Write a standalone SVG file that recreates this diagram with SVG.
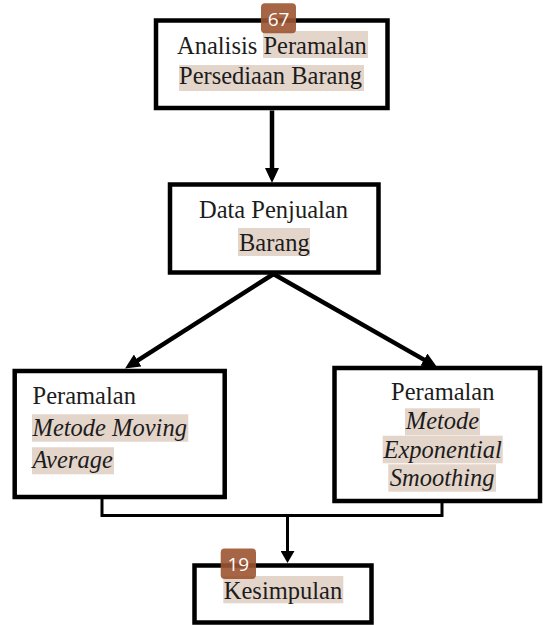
<svg xmlns="http://www.w3.org/2000/svg" width="543" height="625" viewBox="0 0 543 625">
<style>
.box{fill:#fff;stroke:#000;stroke-width:4.5}
.t{font-family:"Liberation Serif","Times New Roman",serif;font-size:24.5px;fill:#1c1c1c}
.i{font-style:italic}
.hl{fill:#e4d5cb}
.ln{fill:none;stroke:#000;stroke-width:4.5}
.ln2{fill:none;stroke:#000;stroke-width:3}
.badge{fill:#9c5430;fill-opacity:0.9}
.bt{font-family:"Open Sans","Noto Sans",sans-serif;font-size:19px;fill:#fff}
</style>
<defs>
<marker id="ah" viewBox="0 0 15 14" markerWidth="15" markerHeight="14" refX="4" refY="7" orient="auto" markerUnits="userSpaceOnUse">
<path d="M0,0 L15,7 L0,14 z" fill="#000"/>
</marker>
<marker id="ahs" viewBox="0 0 12 14" markerWidth="12" markerHeight="14" refX="3" refY="7" orient="auto" markerUnits="userSpaceOnUse">
<path d="M0,0 L12,7 L0,14 z" fill="#000"/>
</marker>
</defs>
<rect width="543" height="625" fill="#fff"/>
<g id="connectors">
<path class="ln" d="M272,110.5 V172" marker-end="url(#ah)"/>
<path class="ln" d="M273.5,274 L134.3,362.6" marker-end="url(#ah)"/>
<path class="ln" d="M273.5,274 L427.4,361.6" marker-end="url(#ah)"/>
<path class="ln2" d="M102,499 V515.5 H442 V503"/>
<path class="ln2" d="M287.5,515.5 V554" marker-end="url(#ahs)"/>
</g>
<g id="node-analisis">
<rect class="box" x="156" y="20.5" width="231.5" height="87.5"/>
<rect class="hl" x="263" y="31" width="105" height="27"/>
<rect class="hl" x="179" y="65" width="185" height="26"/>
<text class="t" x="177" y="53.5">Analisis Peramalan</text>
<text class="t" x="179" y="84">Persediaan Barang</text>
</g>
<g id="node-data">
<rect class="box" x="170" y="184.5" width="208.5" height="88"/>
<rect class="hl" x="238" y="228" width="72" height="28"/>
<text class="t" x="199" y="218.3">Data Penjualan</text>
<text class="t" x="239" y="251">Barang</text>
</g>
<g id="node-ma">
<rect class="box" x="14.7" y="371" width="210" height="126"/>
<rect class="hl" x="32" y="414.3" width="156.3" height="27.4"/>
<rect class="hl" x="32" y="447.3" width="82" height="27"/>
<text class="t" x="32.5" y="404">Peramalan</text>
<text class="t i" x="32.5" y="436">Metode Moving</text>
<text class="t i" x="32.5" y="468">Average</text>
</g>
<g id="node-es">
<rect class="box" x="334.5" y="368" width="205.5" height="133"/>
<rect class="hl" x="405" y="408.3" width="75" height="27"/>
<rect class="hl" x="382.7" y="435.7" width="120" height="27.6"/>
<rect class="hl" x="388.3" y="464.3" width="107.7" height="27.4"/>
<text class="t" x="442.8" y="400" text-anchor="middle">Peramalan</text>
<text class="t i" x="442.5" y="429" text-anchor="middle">Metode</text>
<text class="t i" x="442.7" y="457.5" text-anchor="middle">Exponential</text>
<text class="t i" x="442.2" y="485.5" text-anchor="middle">Smoothing</text>
</g>
<g id="node-kesimpulan">
<rect class="box" x="194.5" y="565.5" width="177" height="57"/>
<rect class="hl" x="223.3" y="576" width="120" height="27.3"/>
<text class="t" x="223.8" y="599">Kesimpulan</text>
</g>
<g id="badges">
<rect class="badge" x="261" y="3.3" width="35" height="30" rx="4"/>
<text class="bt" x="278.5" y="25.5" text-anchor="middle">67</text>
<rect class="badge" x="220.7" y="548.5" width="35.3" height="30.5" rx="4"/>
<text class="bt" x="238.3" y="571" text-anchor="middle">19</text>
</g>
</svg>
